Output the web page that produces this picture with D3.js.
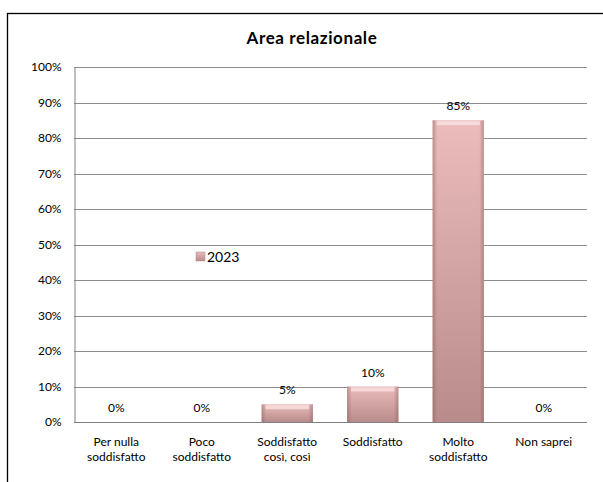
<!DOCTYPE html>
<html>
<head>
<meta charset="utf-8">
<script src="https://cdn.jsdelivr.net/npm/d3@7"></script>
<style>
body { margin: 0; background: #fff; }
svg { font-family: Lato, "Open Sans", sans-serif; }
</style>
</head>
<body>
<svg id="chart" width="603" height="482"></svg>
<script>
var categories = ["Per nulla\nsoddisfatto", "Poco\nsoddisfatto", "Soddisfatto\ncosì, così", "Soddisfatto", "Molto\nsoddisfatto", "Non saprei"];
var values2023 = [0, 0, 5, 10, 85, 0];
var yTicks = [0, 10, 20, 30, 40, 50, 60, 70, 80, 90, 100];
var seriesName = "2023";
var chartTitle = "Area relazionale";

var svg = d3.select("#chart"),
	margin = {top: 67, left: 74, bottom: 60, right: 16},
	width = +svg.attr("width"),
	height = +svg.attr("height");

var data = values2023.map((v, i) => ({cat: categories[i], value: v}));

// outer frame, cut off on the right and bottom
svg.append("rect")
	.attr("x", 7.5).attr("y", 13.5)
	.attr("width", 620).attr("height", 500)
	.attr("fill", "none")
	.attr("stroke", "#000")
	.attr("stroke-width", 1.3);

var defs = svg.append("defs");
var grad = defs.append("linearGradient").attr("id", "barGrad")
	.attr("x1", 0).attr("y1", 0).attr("x2", 0).attr("y2", 1);
grad.append("stop").attr("offset", "0%").attr("stop-color", "#ecbcbc");
grad.append("stop").attr("offset", "100%").attr("stop-color", "#b98b8b");
var side = defs.append("linearGradient").attr("id", "sideGrad")
	.attr("x1", 0).attr("y1", 0).attr("x2", 1).attr("y2", 0);
side.append("stop").attr("offset", "0%").attr("stop-color", "#8c6060").attr("stop-opacity", 0.5);
side.append("stop").attr("offset", "9%").attr("stop-color", "#8c6060").attr("stop-opacity", 0);
side.append("stop").attr("offset", "91%").attr("stop-color", "#8c6060").attr("stop-opacity", 0);
side.append("stop").attr("offset", "100%").attr("stop-color", "#8c6060").attr("stop-opacity", 0.5);

var x = d3.scaleBand()
	.domain(categories)
	.range([margin.left - 0.5, width - margin.right - 0.5])
	.paddingInner(0.4)
	.paddingOuter(0.2);

var y = d3.scaleLinear()
	.domain([0, 100])
	.range([height - margin.bottom, margin.top]);

svg.append("text")
	.attr("x", 312)
	.attr("y", 44)
	.attr("text-anchor", "middle")
	.style("font-size", "17px")
	.style("font-weight", "bold")
	.style("letter-spacing", "0.6px")
	.text(chartTitle);

// gridlines
svg.append("g")
	.selectAll("line")
	.data(yTicks)
	.enter().append("line")
	.attr("x1", margin.left)
	.attr("x2", width - margin.right)
	.attr("y1", d => Math.round(y(d)) + 0.5)
	.attr("y2", d => Math.round(y(d)) + 0.5)
	.attr("stroke", d => d == 0 ? "#808080" : "#8c8c8c")
	.attr("stroke-width", 1);

var yAxis = svg.append("g")
	.attr("transform", `translate(${margin.left + 0.5},0)`)
	.call(d3.axisLeft(y).tickValues(yTicks).tickSize(0).tickPadding(13).tickFormat(d => d + "%"));
yAxis.select(".domain").attr("stroke", "#808080");
yAxis.selectAll("text").style("font-size", "12px").attr("fill", "#000").style("font-family", "Lato, sans-serif");

var bars = svg.append("g").selectAll("g")
	.data(data)
	.enter().append("g");

bars.append("rect")
	.attr("x", d => x(d.cat))
	.attr("width", x.bandwidth())
	.attr("y", d => y(d.value))
	.attr("height", d => y(0) - y(d.value))
	.attr("fill", "url(#barGrad)");
bars.append("rect")
	.attr("x", d => x(d.cat))
	.attr("width", x.bandwidth())
	.attr("y", d => y(d.value))
	.attr("height", d => y(0) - y(d.value))
	.attr("fill", "url(#sideGrad)");
// light top bevel
bars.filter(d => d.value > 0).append("rect")
	.attr("x", d => x(d.cat) + 4)
	.attr("width", x.bandwidth() - 8)
	.attr("y", d => y(d.value) + 1)
	.attr("height", 4)
	.attr("fill", "#f8dede")
	.attr("opacity", 0.85);

svg.append("g").selectAll("text")
	.data(data)
	.enter().append("text")
	.attr("x", d => x(d.cat) + x.bandwidth() / 2)
	.attr("y", d => y(d.value) - 10)
	.attr("text-anchor", "middle")
	.style("font-size", "12px")
	.text(d => d.value + "%");

// category labels
var xl = svg.append("g").selectAll("text")
	.data(categories)
	.enter().append("text")
	.attr("x", d => x(d) + x.bandwidth() / 2)
	.attr("y", 446)
	.attr("text-anchor", "middle")
	.style("font-size", "12px");
xl.selectAll("tspan")
	.data(d => d.split("\n").map(t => ({t: t, x: x(d) + x.bandwidth() / 2})))
	.enter().append("tspan")
	.attr("x", t => t.x)
	.attr("dy", (t, i) => i == 0 ? 0 : 15)
	.text(t => t.t);

// legend
var lg = svg.append("g").attr("transform", "translate(196,252)");
lg.append("rect").attr("width", 9).attr("height", 9).attr("fill", "url(#barGrad)").attr("stroke", "#b08888").attr("stroke-width", 0.5);
lg.append("text").attr("x", 11).attr("y", 10).style("font-size", "14px").text(seriesName);
</script>
</body>
</html>
